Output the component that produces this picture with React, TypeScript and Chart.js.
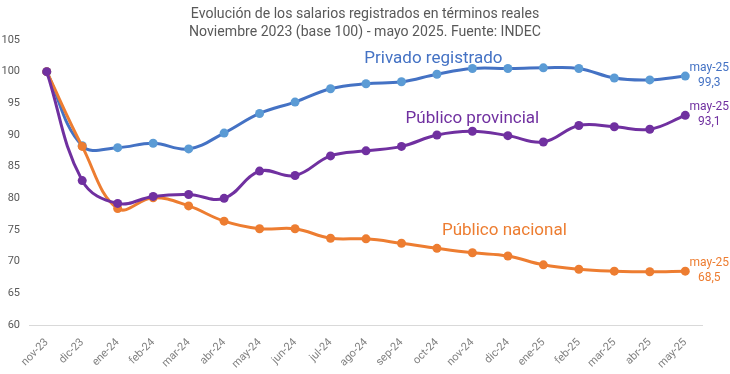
import React, { useEffect, useRef } from "react";
import { Chart, registerables } from "chart.js";

Chart.register(...registerables);

const categories = ["nov-23","dic-23","ene-24","feb-24","mar-24","abr-24","may-24","jun-24","jul-24","ago-24","sep-24","oct-24","nov-24","dic-24","ene-25","feb-25","mar-25","abr-25","may-25"];
const privado = [100, 88.3, 88.0, 88.7, 87.8, 90.3, 93.4, 95.2, 97.3, 98.1, 98.4, 99.6, 100.5, 100.5, 100.6, 100.5, 99.0, 98.7, 99.3];
const provincial = [100, 82.8, 79.2, 80.3, 80.6, 80.0, 84.3, 83.6, 86.7, 87.5, 88.2, 90.0, 90.6, 89.9, 88.9, 91.5, 91.3, 90.9, 93.1];
const nacional = [100, 88.2, 78.4, 80.1, 78.8, 76.4, 75.2, 75.2, 73.7, 73.6, 72.9, 72.1, 71.4, 70.9, 69.5, 68.8, 68.5, 68.4, 68.5];
const seriesNames = ["Privado registrado", "Público provincial", "Público nacional"];
const titleLines = ["Evolución de los salarios registrados en términos reales", "Noviembre 2023 (base 100) - mayo 2025. Fuente: INDEC"];
const endLabel = "may-25";
// label anchors: [category index, value]
const labelAnchors = [[10.9, 102.1], [12.0, 92.6], [12.9, 74.9]];

const lineColors = ["#4472C4", "#7030A0", "#ED7D31"];
const pointColors = ["#5B9BD5", "#7030A0", "#ED7D31"];
const drawOrder = [2, 0, 1];
const FONT = "Roboto, 'Noto Sans', sans-serif";

const fmt = (v: number) => v.toFixed(1).replace(".", ",");

export default function App() {
  const ref = useRef<HTMLCanvasElement | null>(null);
  useEffect(() => {
    document.body.style.margin = "0";
    if (!ref.current) return;
    const data = [privado, provincial, nacional];
    const overlay = {
      id: "overlay",
      afterDraw(chart: any) {
        const ctx = chart.ctx;
        const xs = chart.scales.x;
        const ys = chart.scales.y;
        ctx.save();
        ctx.textAlign = "center";
        ctx.textBaseline = "middle";
        ctx.fillStyle = "#595959";
        ctx.font = `14.1px ${FONT}`;
        ctx.fillText(titleLines[0], 365, 14);
        ctx.fillText(titleLines[1], 365, 32);
        ctx.font = `17px ${FONT}`;
        labelAnchors.forEach((a, i) => {
          const x0 = xs.getPixelForValue(Math.floor(a[0]));
          const x1 = xs.getPixelForValue(Math.floor(a[0]) + 1);
          const x = x0 + (x1 - x0) * (a[0] - Math.floor(a[0]));
          ctx.fillStyle = lineColors[i];
          ctx.fillText(seriesNames[i], x, ys.getPixelForValue(a[1]));
        });
        ctx.font = `12px ${FONT}`;
        data.forEach((d, i) => {
          const last = d.length - 1;
          const px = xs.getPixelForValue(last) + 24;
          const py = ys.getPixelForValue(d[last]);
          ctx.fillStyle = lineColors[i];
          ctx.fillText(endLabel, px, py - 8);
          ctx.fillText(fmt(d[last]), px, py + 7);
        });
        ctx.restore();
      },
    };
    const chart = new Chart(ref.current, {
      type: "line",
      data: {
        labels: categories,
        datasets: data.map((d, i) => ({
          label: seriesNames[i],
          data: d,
          order: drawOrder[i],
          borderColor: lineColors[i],
          backgroundColor: pointColors[i],
          pointBackgroundColor: pointColors[i],
          pointBorderColor: pointColors[i],
          pointBorderWidth: 0,
          borderWidth: 3,
          pointRadius: 4.5,
          tension: 0.4,
          fill: false,
        })),
      },
      options: {
        animation: false,
        responsive: false,
        maintainAspectRatio: false,
        layout: { padding: { top: 40, right: 27, left: 0, bottom: 0 } },
        plugins: { legend: { display: false }, title: { display: false }, tooltip: { enabled: false } },
        scales: {
          x: {
            offset: true,
            grid: { display: false, drawTicks: false },
            border: { display: false },
            ticks: { color: "#7F7F7F", font: { family: FONT, size: 11 }, maxRotation: 45, minRotation: 45, padding: 11, autoSkip: false },
            afterFit: (s: any) => { s.paddingLeft = 0; s.height = 49; },
          },
          y: {
            min: 60,
            max: 105,
            grid: {
              drawTicks: false,
              color: (c: any) => (c.tick && c.tick.value === 60 ? "#D9D9D9" : "rgba(0,0,0,0)"),
            },
            border: { display: false },
            ticks: { stepSize: 5, color: "#595959", font: { family: FONT, size: 11 }, padding: 9 },
            afterFit: (s: any) => { s.width = 29; },
          },
        },
      },
      plugins: [overlay],
    });
    return () => chart.destroy();
  }, []);
  return <canvas ref={ref} width={730} height={374} style={{ display: "block" }} />;
}
